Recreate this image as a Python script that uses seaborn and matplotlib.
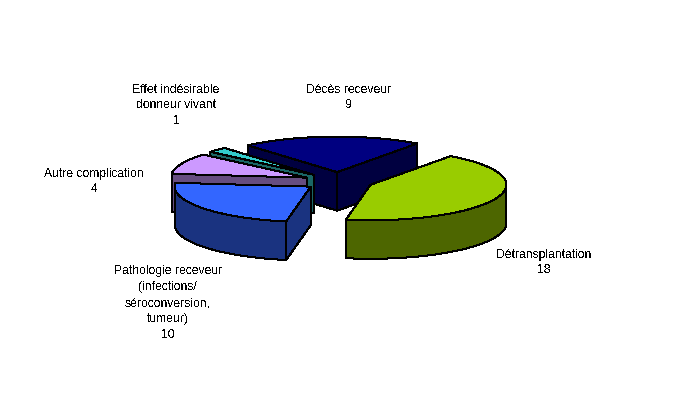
#!/usr/bin/env python
import numpy as np
import seaborn as sns
import matplotlib.pyplot as plt
from matplotlib.patches import Polygon

# order follows the pie clockwise, starting with the dark blue slice at the back
categories = [
    "Décès receveur",
    "Détransplantation",
    "Pathologie receveur\n(infections/\nséroconversion,\ntumeur)",
    "Autre complication",
    "Effet indésirable\ndonneur vivant",
]
values = [9, 18, 10, 4, 1]
top_colors = ["#000080", "#99CC00", "#3366FF", "#CC99FF", "#33CCCC"]

# pie layout, in pixels
cx, cy = 338.6, 181.2
rx, ry = 136, 35.5
depth = 38.5
explode = 0.255
first_angle = -41.0
label_pos = [(349, 97.5), (544, 262.5), (168, 303), (94, 181.5), (176, 105.5)]
draw_order = [0, 4, 3, 1, 2]

sns.set_theme(style="white")
plt.rcParams["font.family"] = ["Liberation Sans", "DejaVu Sans"]
plt.rcParams["text.antialiased"] = False

fig, ax = plt.subplots(figsize=(6.8, 4), dpi=100)
fig.subplots_adjust(0, 0, 1, 1)
ax.set_xlim(0, 680)
ax.set_ylim(400, 0)
ax.axis("off")

palette = sns.color_palette(top_colors)
sweep = np.array(values) / sum(values) * 360
starts = first_angle + np.concatenate([[0], np.cumsum(sweep)[:-1]])


def project(x0, y0, deg):
    rad = np.radians(deg)
    return x0 + rx * np.sin(rad), y0 - ry * np.cos(rad)


def poly(points, color):
    ax.add_patch(Polygon(points, closed=True, facecolor=color, edgecolor="black",
                         linewidth=0.72, antialiased=False))


for i in draw_order:
    a0, a1 = starts[i], starts[i] + sweep[i]
    mid = np.radians((a0 + a1) / 2)
    x0 = cx + explode * rx * np.sin(mid)
    y0 = cy - explode * ry * np.cos(mid)
    top = palette[i]
    side = tuple(c * 0.5 for c in top)

    # radial faces that look towards the viewer
    if np.sin(np.radians(a0)) < 0:
        x1, y1 = project(x0, y0, a0)
        poly([(x0, y0), (x1, y1), (x1, y1 + depth), (x0, y0 + depth)], side)
    if np.sin(np.radians(a1)) > 0:
        x1, y1 = project(x0, y0, a1)
        poly([(x0, y0), (x1, y1), (x1, y1 + depth), (x0, y0 + depth)], side)

    # outer wall, only the front half of the ellipse
    lo, hi = max(a0, 90), min(a1, 270)
    if hi > lo:
        xs, ys = project(x0, y0, np.linspace(lo, hi, 60))
        wall = list(zip(xs, ys)) + list(zip(xs[::-1], ys[::-1] + depth))
        poly(wall, side)

    xs, ys = project(x0, y0, np.linspace(a0, a1, 60))
    poly([(x0, y0)] + list(zip(xs, ys)), top)

for name, val, (lx, ly) in zip(categories, values, label_pos):
    ax.text(lx, ly, f"{name}\n{val}", ha="center", va="center", fontsize=8.7,
            linespacing=1.42, color="black")

fig.savefig("out.png", dpi=100, facecolor="white")
